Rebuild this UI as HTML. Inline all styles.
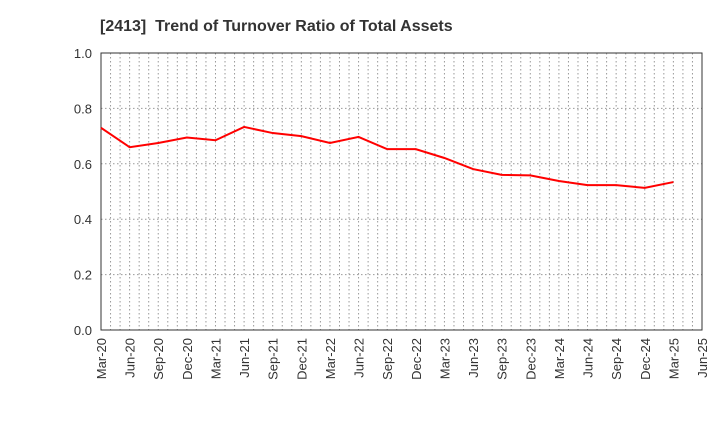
<!DOCTYPE html>
<html><head><meta charset="utf-8"><style>
body{margin:0;background:#fff;font-family:"Liberation Sans",sans-serif}
</style></head><body>
<svg id="c" width="720" height="440" xmlns="http://www.w3.org/2000/svg">
<text x="100" y="31" font-size="16" font-weight="bold" fill="#333" xml:space="preserve" style="white-space:pre">[2413]  Trend of Turnover Ratio of Total Assets</text>
<g id="grid"></g><g id="axes"></g><g id="series"></g>
</svg>
<script>
const categories=["Mar-20","Jun-20","Sep-20","Dec-20","Mar-21","Jun-21","Sep-21","Dec-21","Mar-22","Jun-22","Sep-22","Dec-22","Mar-23","Jun-23","Sep-23","Dec-23","Mar-24","Jun-24","Sep-24","Dec-24","Mar-25","Jun-25"];
const values=[0.73,0.66,0.675,0.695,0.685,0.733,0.711,0.70,0.675,0.697,0.653,0.653,0.621,0.581,0.56,0.558,0.538,0.523,0.523,0.513,0.534];
const yTicks=[0,0.2,0.4,0.6,0.8,1.0];
const NS="http://www.w3.org/2000/svg";
const L=101,R=702,T=53,B=330,months=63;
const x=i=>L+(i*3)*(R-L)/months;
const xm=m=>L+m*(R-L)/months;
const y=v=>B-v*(B-T);
function mk(p,tag,a){const e=document.createElementNS(NS,tag);for(const k in a)e.setAttribute(k,a[k]);p.appendChild(e);return e;}
const g=document.getElementById('grid'),ax=document.getElementById('axes'),s=document.getElementById('series');
for(let m=1;m<months;m++){const l=mk(g,'line',{x1:xm(m),x2:xm(m),y1:T,y2:B,stroke:'#999','stroke-dasharray':'1.5,2.5','stroke-width':1});

}
yTicks.forEach(v=>{if(v>0&&v<1){const l=mk(g,'line',{x1:L,x2:R,y1:y(v),y2:y(v),stroke:'#999','stroke-dasharray':'1.5,2.5'});

}
const t=mk(ax,'text',{x:L-9,y:y(v)+5,'text-anchor':'end','font-size':13,fill:'#333'});t.textContent=v.toFixed(1);

});
const r=mk(ax,'rect',{x:L,y:T,width:R-L,height:B-T,fill:'none',stroke:'#333','stroke-width':1});


categories.forEach((c,i)=>{const t=mk(ax,'text',{transform:`translate(${x(i)+5},${B+8}) rotate(-90)`,'text-anchor':'end','font-size':13,fill:'#333'});t.textContent=c;

});
const p=mk(s,'polyline',{points:values.map((v,i)=>x(i)+','+y(v)).join(' '),fill:'none',stroke:'#f00','stroke-width':2});


</script>
</body></html>
